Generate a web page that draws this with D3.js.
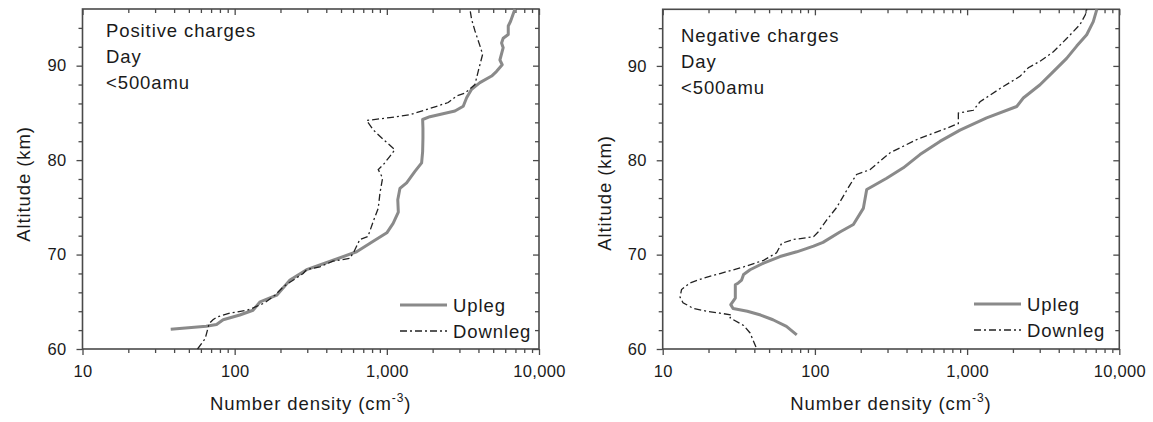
<!DOCTYPE html>
<html>
<head>
<meta charset="utf-8">
<script src="https://cdn.jsdelivr.net/npm/d3@7"></script>
<style>
  body { margin: 0; background: #fff; }
  svg { display: block; }
  text { font-family: "Liberation Sans", Arial, sans-serif; fill: #1a1a1a; }
</style>
</head>
<body>
<svg id="chart" width="1153" height="422"></svg>
<script>
// values: [number density (cm^-3), altitude (km)]
const posUpleg = [
  [38, 62.1], [65, 62.4], [76, 62.6], [84, 63.1], [108, 63.6], [132, 64.1],
  [147, 65.0], [189, 65.7], [231, 67.3], [297, 68.4], [444, 69.4], [633, 70.3],
  [814, 71.4], [1000, 72.3], [1100, 73.3], [1190, 74.5], [1180, 75.8], [1219, 77.0],
  [1349, 77.6], [1530, 78.8], [1693, 79.7], [1719, 80.9], [1727, 82.3], [1727, 83.4],
  [1719, 84.3], [1919, 84.6], [2802, 85.2], [3178, 85.7], [3345, 86.6], [3606, 87.5],
  [4090, 88.2], [4884, 88.9], [5265, 89.4], [5730, 90.1], [5535, 90.6], [5816, 91.9],
  [5676, 92.4], [5816, 92.9], [6280, 93.3], [6280, 94.2], [6505, 94.7], [6950, 96.0]
];
const posDownleg = [
  [57, 60.0], [64, 61.1], [68, 62.7], [72, 63.1], [77, 63.4], [93, 63.8],
  [120, 64.1], [130, 64.3], [158, 64.9], [184, 65.7], [209, 66.6], [282, 68.0],
  [297, 68.4], [363, 68.7], [442, 69.3], [572, 69.6], [608, 70.3], [665, 71.6],
  [751, 71.9], [814, 73.5], [878, 74.9], [901, 76.5], [938, 78.1], [878, 79.0],
  [946, 79.5], [1047, 80.4], [1129, 81.1], [946, 82.2], [814, 83.2], [736, 84.2],
  [1047, 84.5], [1419, 84.8], [2125, 85.7], [2532, 86.1], [2874, 86.8], [3261, 87.1],
  [3792, 88.0], [3985, 89.4], [4261, 91.2], [4093, 92.1], [3792, 93.7], [3606, 94.9],
  [3516, 96.0]
];
const negUpleg = [
  [76, 61.5], [65, 62.4], [53, 63.1], [44, 63.6], [36, 64.0], [29, 64.3],
  [28, 64.7], [30, 65.4], [30, 66.8], [31.4, 67.0], [33, 67.3], [34, 67.9],
  [37.5, 68.4], [46, 69.1], [59, 69.8], [76, 70.3], [98, 70.9], [113, 71.3],
  [146, 72.4], [179, 73.2], [208, 74.9], [219, 76.9], [236, 77.2], [296, 78.1],
  [381, 79.2], [490, 80.6], [663, 82.0], [898, 83.2], [1344, 84.5], [2118, 85.7],
  [2340, 86.6], [3014, 88.0], [3686, 89.4], [4508, 90.8], [5248, 92.1], [6106, 93.3],
  [6745, 94.7], [7120, 96.0]
];
const negDownleg = [
  [41, 60.2], [37.5, 61.7], [34, 62.5], [27.7, 63.3], [28.4, 63.6], [23.8, 63.8],
  [19.5, 64.0], [15.9, 64.3], [13.6, 64.9], [13.0, 65.5], [13.3, 66.3], [15.1, 67.0],
  [18.5, 67.5], [23.8, 68.0], [34, 68.7], [46, 69.4], [56, 70.2], [60.5, 71.2],
  [72, 71.6], [98, 71.9], [105, 72.4], [120, 73.7], [139, 75.0], [170, 77.4],
  [188, 78.5], [230, 79.0], [312, 80.8], [467, 82.2], [735, 83.4], [876, 83.9],
  [876, 85.0], [1099, 85.3], [1216, 86.2], [1645, 87.6], [2227, 88.9], [2525, 89.8],
  [3016, 90.5], [3689, 91.5], [4508, 92.9], [5530, 94.4], [5970, 95.4], [6120, 96.0]
];

const xMajor = [10, 100, 1000, 10000];
const xMinor = [20, 30, 40, 50, 60, 70, 80, 90, 200, 300, 400, 500, 600, 700, 800, 900,
                2000, 3000, 4000, 5000, 6000, 7000, 8000, 9000];
const yMajor = [60, 70, 80, 90];
const yMinor = [62, 64, 66, 68, 72, 74, 76, 78, 82, 84, 86, 88, 92, 94];
const seriesNames = ["Upleg", "Downleg"];

const panels = [
  { title: ["Positive charges", "Day", "<500amu"], up: posUpleg, down: posDownleg,
    left: 82.5, right: 539, top: 9, bottom: 349,
    titleX: 106, titleY: 36.5, ylabX: 30, ylabY: 184, legX: 400, legY: 305 },
  { title: ["Negative charges", "Day", "<500amu"], up: negUpleg, down: negDownleg,
    left: 662.7, right: 1119.3, top: 9.3, bottom: 349,
    titleX: 681, titleY: 42.3, ylabX: 611, ylabY: 193, legX: 974, legY: 304 }
];

const svg = d3.select("#chart");
const axisColor = "#4a4a4a";

function styleAxis(g) {
  g.select(".domain").remove();
  g.selectAll("line").attr("stroke", axisColor).attr("stroke-width", 1.3);
  g.selectAll("text").style("font-size", "16.5px").style("letter-spacing", "0.3px")
    .attr("fill", "#1a1a1a");
}

function drawPanel(p) {
  const x = d3.scaleLog().domain([10, 10000]).range([p.left, p.right]);
  const y = d3.scaleLinear().domain([60, 96]).range([p.bottom, p.top]);
  const g = svg.append("g");

  // minor ticks
  g.append("g").attr("transform", `translate(0,${p.bottom})`)
    .call(d3.axisBottom(x).tickValues(xMinor).tickSize(4).tickFormat(""))
    .call(styleAxis);
  g.append("g").attr("transform", `translate(0,${p.top})`)
    .call(d3.axisTop(x).tickValues(xMinor).tickSize(-4).tickFormat(""))
    .call(styleAxis);
  g.append("g").attr("transform", `translate(${p.left},0)`)
    .call(d3.axisLeft(y).tickValues(yMinor).tickSize(4).tickFormat(""))
    .call(styleAxis);
  g.append("g").attr("transform", `translate(${p.right},0)`)
    .call(d3.axisRight(y).tickValues(yMinor).tickSize(-4).tickFormat(""))
    .call(styleAxis);

  // major ticks
  g.append("g").attr("transform", `translate(0,${p.bottom})`)
    .call(d3.axisBottom(x).tickValues(xMajor).tickSize(6).tickPadding(10)
      .tickFormat(d3.format(",")))
    .call(styleAxis);
  g.append("g").attr("transform", `translate(0,${p.top})`)
    .call(d3.axisTop(x).tickValues(xMajor).tickSize(-6).tickFormat(""))
    .call(styleAxis);
  g.append("g").attr("transform", `translate(${p.left},0)`)
    .call(d3.axisLeft(y).tickValues(yMajor).tickSize(6).tickPadding(10).tickFormat(d3.format("d")))
    .call(styleAxis);
  g.append("g").attr("transform", `translate(${p.right},0)`)
    .call(d3.axisRight(y).tickValues(yMajor).tickSize(-6).tickFormat(""))
    .call(styleAxis);

  // frame
  g.append("rect")
    .attr("x", p.left).attr("y", p.top)
    .attr("width", p.right - p.left).attr("height", p.bottom - p.top)
    .attr("fill", "none").attr("stroke", axisColor).attr("stroke-width", 1.6);

  const line = d3.line().x(d => x(d[0])).y(d => y(d[1]));

  g.append("path").datum(p.up)
    .attr("d", line).attr("fill", "none")
    .attr("stroke", "#8a8a8a").attr("stroke-width", 3).attr("stroke-linejoin", "round");
  g.append("path").datum(p.down)
    .attr("d", line).attr("fill", "none")
    .attr("stroke", "#222").attr("stroke-width", 1.3)
    .attr("stroke-dasharray", "7,3,2,3");

  // in-plot labels
  p.title.forEach((t, i) => {
    g.append("text").attr("x", p.titleX).attr("y", p.titleY + i * 26)
      .style("font-size", "18.5px").style("letter-spacing", "0.9px").text(t);
  });

  // legend
  const leg = g.append("g").attr("transform", `translate(${p.legX},${p.legY})`);
  seriesNames.forEach((name, i) => {
    const row = leg.append("g").attr("transform", `translate(0,${i * 26})`);
    row.append("line").attr("x1", 0).attr("x2", 47).attr("y1", 0).attr("y2", 0)
      .attr("stroke", i === 0 ? "#8a8a8a" : "#222")
      .attr("stroke-width", i === 0 ? 3 : 1.3)
      .attr("stroke-dasharray", i === 0 ? null : "7,3,2,3");
    row.append("text").attr("x", 53).attr("y", 6.5)
      .style("font-size", "18.5px").style("letter-spacing", "0.9px").text(name);
  });

  // axis titles
  g.append("text")
    .attr("transform", `translate(${p.ylabX},${p.ylabY}) rotate(-90)`)
    .attr("text-anchor", "middle")
    .style("font-size", "18.5px").style("letter-spacing", "0.9px")
    .text("Altitude (km)");

  const xl = g.append("text")
    .attr("x", (p.left + p.right) / 2).attr("y", 410)
    .attr("text-anchor", "middle")
    .style("font-size", "18.5px").style("letter-spacing", "0.9px");
  xl.append("tspan").text("Number density (cm");
  xl.append("tspan").attr("dy", -8).style("font-size", "12px").text("-3");
  xl.append("tspan").attr("dy", 8).text(")");
}

panels.forEach(drawPanel);
</script>
</body>
</html>
